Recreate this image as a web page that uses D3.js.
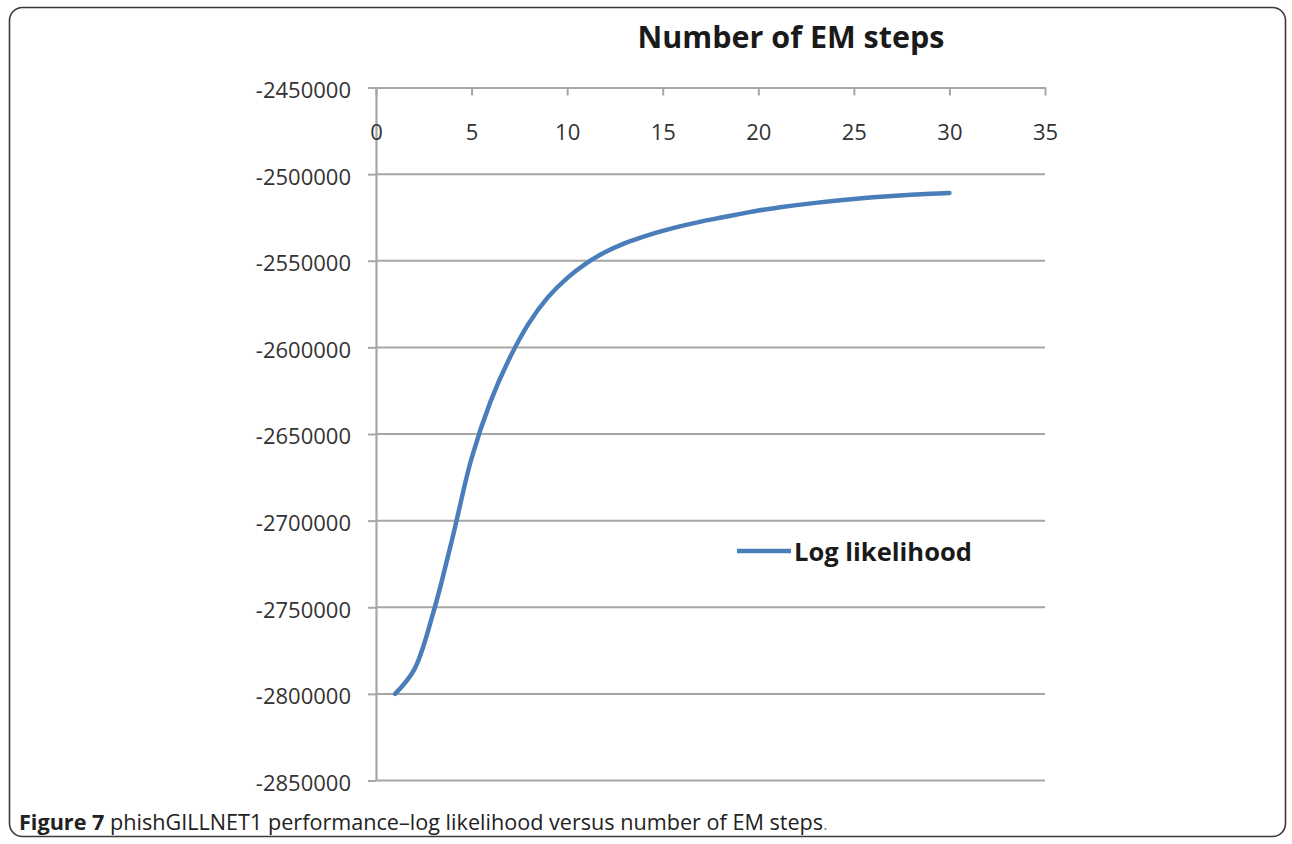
<!DOCTYPE html>
<html>
<head>
<meta charset="utf-8">
<script src="https://cdn.jsdelivr.net/npm/d3@7"></script>
<style>
  html, body { margin: 0; padding: 0; background: #fff; }
  svg { display: block; }
</style>
</head>
<body>
<svg id="chart" width="1292" height="844"></svg>
<script>
// ---- data ----
const steps = [1,2,3,4,5,6,7,8,9,10,11,12,13,14,15,16,17,18,19,20,21,22,23,24,25,26,27,28,29,30];
const logLikelihood = [-2800000,-2786000,-2753000,-2710000,-2664000,-2631000,-2606000,-2586000,-2571000,-2560000,
  -2551500,-2545000,-2540000,-2536100,-2532800,-2529900,-2527400,-2525200,-2523100,-2521000,
  -2519400,-2517900,-2516600,-2515400,-2514300,-2513400,-2512600,-2511900,-2511300,-2510900];
const xTicks = [0,5,10,15,20,25,30,35];
const yTicks = [-2450000,-2500000,-2550000,-2600000,-2650000,-2700000,-2750000,-2800000,-2850000];
const xDomain = [0, 35];
const yDomain = [-2850000, -2450000];
const titleText = "Number of EM steps";
const seriesName = "Log likelihood";
const captionBold = "Figure 7";
const captionRest = " phishGILLNET1 performance\u2013log likelihood versus number of EM steps";

// ---- layout ----
const svg = d3.select("#chart");
const plotLeft = 376, plotRight = 1045, plotTop = 87.5, plotBottom = 780.5;
const x = d3.scaleLinear().domain(xDomain).range([plotLeft, plotRight]);
const y = d3.scaleLinear().domain(yDomain).range([plotBottom, plotTop]);
const gridColor = "#a6a6a6";
const labelFont = "'Open Sans', sans-serif";

// frame
svg.append("rect")
  .attr("x", 9.5).attr("y", 7.5).attr("width", 1276).attr("height", 829)
  .attr("rx", 13).attr("ry", 13)
  .attr("fill", "none").attr("stroke", "#3a3a3a").attr("stroke-width", 1.6);

// gridlines
svg.append("g").selectAll("line").data(yTicks.filter(d => d !== yDomain[1])).join("line")
  .attr("x1", plotLeft).attr("x2", plotRight)
  .attr("y1", d => y(d)).attr("y2", d => y(d))
  .attr("stroke", gridColor).attr("stroke-width", 2);

// y axis
const yAxis = svg.append("g").attr("transform", `translate(${plotLeft},0)`)
  .call(d3.axisLeft(y).tickValues(yTicks).tickFormat(d => String(d)).tickSize(8).tickSizeOuter(0).tickPadding(17));
yAxis.select(".domain").attr("stroke", gridColor).attr("stroke-width", 2.2);
yAxis.selectAll(".tick line").attr("stroke", gridColor).attr("stroke-width", 2);
yAxis.selectAll(".tick text")
  .attr("font-family", labelFont).attr("font-size", 22).attr("fill", "#333").attr("dy", "0.45em");

// x axis (at top, labels below)
const xAxis = svg.append("g").attr("transform", `translate(0,${plotTop})`)
  .call(d3.axisBottom(x).tickValues(xTicks).tickFormat(d => String(d)).tickSize(8).tickSizeOuter(0).tickPadding(29));
xAxis.select(".domain").attr("stroke", gridColor).attr("stroke-width", 2.2);
xAxis.selectAll(".tick line").attr("stroke", gridColor).attr("stroke-width", 2);
xAxis.selectAll(".tick text")
  .attr("font-family", labelFont).attr("font-size", 22).attr("fill", "#333");

// title
const title = svg.append("text")
  .attr("x", 791).attr("y", 48).attr("text-anchor", "middle")
  .attr("font-family", labelFont).attr("font-weight", 700).attr("font-size", 29).attr("fill", "#1a1a1a")
  .text(titleText);

// series line
const line = d3.line().x((d, i) => x(steps[i])).y(d => y(d)).curve(d3.curveCatmullRom.alpha(0.5));
svg.append("path").datum(logLikelihood)
  .attr("d", line)
  .attr("fill", "none").attr("stroke", "#4a7ebb").attr("stroke-width", 4.5)
  .attr("stroke-linecap", "round").attr("stroke-linejoin", "round");

// legend
const leg = svg.append("g").attr("transform", "translate(737,551)");
leg.append("line").attr("x1", 0).attr("x2", 54).attr("y1", 0).attr("y2", 0)
  .attr("stroke", "#4a7ebb").attr("stroke-width", 4.5);
leg.append("text").attr("x", 57).attr("y", 10)
  .attr("font-family", labelFont).attr("font-weight", 700).attr("font-size", 25).attr("fill", "#1a1a1a")
  .text(seriesName);

// caption
const cap = svg.append("text").attr("x", 19).attr("y", 830)
  .attr("font-family", labelFont).attr("font-size", 18.5).attr("fill", "#222");
cap.append("tspan").attr("font-weight", 700).text(captionBold);
cap.append("tspan").text(captionRest);
cap.append("tspan").attr("fill", "#777").attr("font-size", "0.75em").text(".");

// fit text widths to reference measures
function fit(sel, target) {
  const node = sel.node();
  const w = node.getComputedTextLength();
  const fs = parseFloat(sel.attr("font-size"));
  if (w > 0) sel.attr("font-size", fs * target / w);
}
fit(title, 307);
fit(leg.select("text"), 178);
fit(cap, 809);
</script>
</body>
</html>
